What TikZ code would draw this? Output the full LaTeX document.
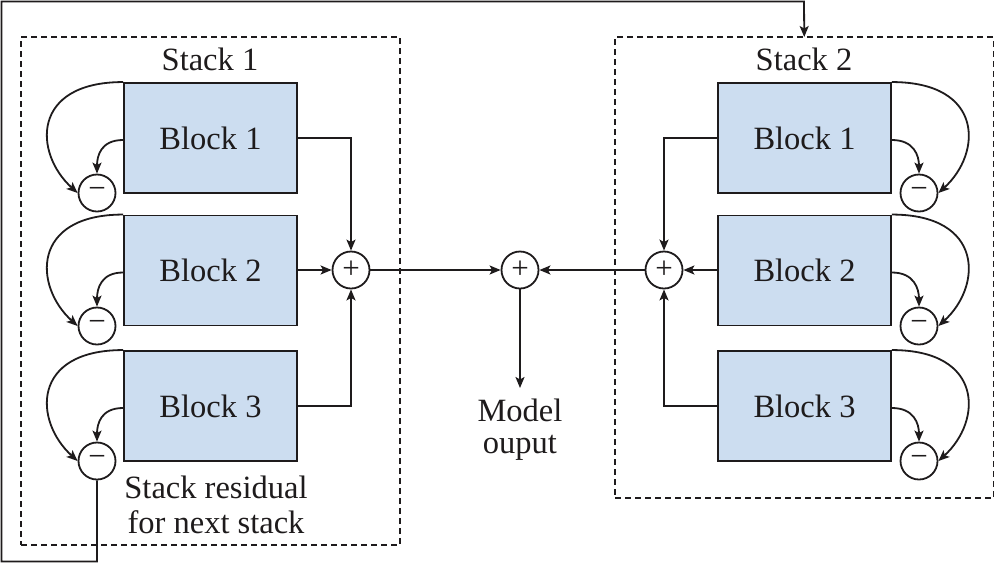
\documentclass[tikz,border=0pt]{standalone}
\usepackage{fontspec}
\setmainfont{Liberation Serif}
\usetikzlibrary{arrows.meta}
\definecolor{blockfill}{RGB}{204,221,240}
\definecolor{ink}{RGB}{30,27,28}
\begin{document}
\begin{tikzpicture}[x=1pt,y=-1pt,
  every node/.style={font=\fontsize{32.5}{35}\selectfont, text=ink},
  blockbox/.style={draw=ink, line width=1.9pt, fill=blockfill, minimum width=173pt, minimum height=110pt, inner sep=0pt},
  opcircle/.style={draw=ink, circle, line width=1.8pt, minimum size=37pt, inner sep=0pt, fill=white, font=\fontsize{31}{31}\selectfont},
  conn/.style={draw=ink, line width=1.8pt},
  arr/.style={conn, -{Stealth[length=11pt,width=9pt,inset=2.5pt]}},
  stackbox/.style={draw=ink, line width=1.5pt, dash pattern=on 6pt off 4pt, inner sep=0pt, outer sep=0pt},
]
\useasboundingbox (0,0) rectangle (995,563);

% stack frames
\node[stackbox, minimum width=379pt, minimum height=508pt, anchor=north west] (s1) at (21,37) {};
\node[stackbox, minimum width=378.5pt, minimum height=461pt, anchor=north west] (s2) at (615,37) {};
\node[anchor=base] (s1lab) at (210,70) {Stack 1};
\node[anchor=base] (s2lab) at (804,70) {Stack 2};

% left blocks
\node[blockbox] (lb1) at (210.5,138) {Block 1};
\node[blockbox] (lb2) at (210.5,270.5) {Block 2};
\node[blockbox] (lb3) at (210.5,406) {Block 3};
% right blocks
\node[blockbox] (rb1) at (804.5,138) {Block 1};
\node[blockbox] (rb2) at (804.5,270.5) {Block 2};
\node[blockbox] (rb3) at (804.5,406) {Block 3};

% feedback line (drawn before circles)
\coordinate (fbBL) at (1.5,561.5);
\coordinate (fbTop) at (804,1.5);
\node[opcircle] (lm3) at (97,461) {−};
\draw[arr] (lm3.south) |- (fbBL) |- (fbTop) -- (s2.north);

% minus circles
\node[opcircle] (lm1) at (97,193) {−};
\node[opcircle] (lm2) at (97,326) {−};
\node[opcircle] (rm1) at (919,193) {−};
\node[opcircle] (rm2) at (919,326) {−};
\node[opcircle] (rm3) at (919,461) {−};

% plus circles
\node[opcircle] (lp) at (351,270) {+};
\node[opcircle] (mp) at (520,270) {+};
\node[opcircle] (rp) at (664,270) {+};

% left residual curves
\foreach \b/\m in {lb1/lm1, lb2/lm2, lb3/lm3}{
  \draw[arr] (\b.north west) .. controls +(-92,0) and +(-44,-40) .. (\m.west);
  \draw[arr] ([yshift=-2pt]\b.west) .. controls +(-22,0) and +(0,-18) .. (\m.north);
}
% right residual curves
\foreach \b/\m in {rb1/rm1, rb2/rm2, rb3/rm3}{
  \draw[arr] (\b.north east) .. controls +(92,0) and +(44,-40) .. (\m.east);
  \draw[arr] ([yshift=-2pt]\b.east) .. controls +(22,0) and +(0,-18) .. (\m.north);
}

% left sums
\draw[arr] (lb1.east) -| (lp.north);
\draw[arr] (lb2.east |- lp.west) -- (lp.west);
\draw[arr] (lb3.east) -| (lp.south);
% right sums
\draw[arr] (rb1.west) -| (rp.north);
\draw[arr] (rb2.west |- rp.east) -- (rp.east);
\draw[arr] (rb3.west) -| (rp.south);

% model output
\draw[arr] (lp.east) -- (mp.west);
\draw[arr] (rp.west) -- (mp.east);
\coordinate (outend) at (520,388);
\draw[arr] (mp.south) -- (outend);
\node[anchor=north, align=center, inner sep=0pt, font=\fontsize{32.5}{32}\selectfont] (outlab) at (520,399) {Model\\ouput};

\node[anchor=north, align=center, inner sep=0pt, font=\fontsize{32.5}{35}\selectfont] (reslab) at (216,476) {Stack residual\\for next stack};
\end{tikzpicture}
\end{document}
